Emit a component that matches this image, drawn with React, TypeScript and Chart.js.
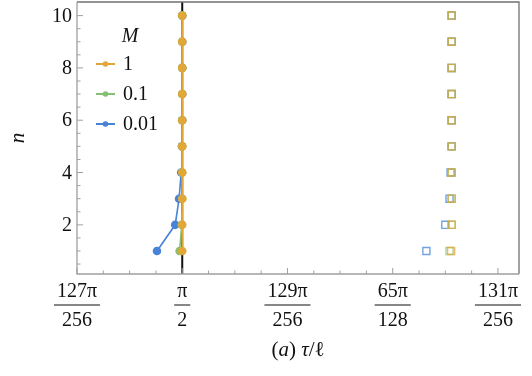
import React, { useEffect, useRef } from "react";
import { Chart, registerables } from "chart.js";

Chart.register(...registerables);

const nValues = [1, 2, 3, 4, 5, 6, 7, 8, 9, 10];
// x values in units of π/256
const m1X = [128, 128, 128, 128, 128, 128, 128, 128, 128, 128];
const m01X = [127.975, 127.995, 128, 128, 128, 128, 128, 128, 128, 128];
const m001X = [127.76, 127.933, 127.97, 127.99, 127.997, 128, 128, 128, 128, 128];
const sq1X = [130.555, 130.56, 130.56, 130.56, 130.56, 130.56, 130.56, 130.56, 130.56, 130.56];
const sq01X = [130.54, 130.56, 130.56, 130.56, 130.56, 130.56, 130.56, 130.56, 130.56, 130.56];
const sq001X = [130.32, 130.5, 130.54, 130.55, 130.56, 130.56, 130.56, 130.56, 130.56, 130.56];

const xTickValues = [127, 128, 129, 130, 131];
const xTickNum = ["127π", "π", "129π", "65π", "131π"];
const xTickDen = ["256", "2", "256", "128", "256"];
const yTickValues = [2, 4, 6, 8, 10];
const legendLabels = ["1", "0.1", "0.01"];
const legendTitle = "M";

const ORANGE = "#E2A736";
const GREEN = "#85BF72";
const BLUE = "#4783D9";
const FONT = "'Liberation Serif', serif";

function pts(xs: number[]) {
  return xs.map((x, i) => ({ x, y: nValues[i] }));
}

const decorPlugin = {
  id: "decor",
  beforeDatasetsDraw(chart: any) {
    const { ctx, chartArea: a, scales } = chart;
    const xs = scales.x;
    ctx.save();
    ctx.strokeStyle = "#111";
    ctx.lineWidth = 2;
    const px = xs.getPixelForValue(128);
    ctx.beginPath();
    ctx.moveTo(px, a.bottom);
    ctx.lineTo(px, a.top);
    ctx.stroke();
    ctx.restore();
  },
  afterDraw(chart: any) {
    const { ctx, chartArea: a, scales } = chart;
    const xs = scales.x;
    const ys = scales.y;
    ctx.save();
    // frame
    ctx.lineWidth = 1.3;
    ctx.strokeStyle = "#707070";
    ctx.beginPath();
    ctx.moveTo(a.left, a.top);
    ctx.lineTo(a.right, a.top);
    ctx.lineTo(a.right, a.bottom);
    ctx.stroke();
    ctx.strokeStyle = "#a0a0a0";
    ctx.beginPath();
    ctx.moveTo(a.left, a.top);
    ctx.lineTo(a.left, a.bottom);
    ctx.lineTo(a.right, a.bottom);
    ctx.stroke();
    // x ticks
    ctx.strokeStyle = "#a0a0a0";
    ctx.lineWidth = 1;
    for (let v = 127; v <= 131.2 + 1e-9; v += 0.25) {
      const p = xs.getPixelForValue(v);
      const major = Math.abs(v - Math.round(v)) < 1e-6;
      const len = major ? 6 : 3.5;
      ctx.beginPath();
      ctx.moveTo(p, a.bottom);
      ctx.lineTo(p, a.bottom - len);
      ctx.stroke();
    }
    for (let v = 0.5; v <= 10.52; v += 0.5) {
      const p = ys.getPixelForValue(v);
      const major = Math.abs(v / 2 - Math.round(v / 2)) < 1e-6;
      const len = major ? 6 : 3.5;
      ctx.beginPath();
      ctx.moveTo(a.left, p);
      ctx.lineTo(a.left + len, p);
      ctx.stroke();
    }
    // y tick labels
    ctx.fillStyle = "#111";
    ctx.font = `20px ${FONT}`;
    ctx.textAlign = "right";
    ctx.textBaseline = "middle";
    yTickValues.forEach((v) => {
      ctx.fillText(String(v), 72, ys.getPixelForValue(v) + 1);
    });
    // x tick labels as fractions
    ctx.textAlign = "center";
    ctx.textBaseline = "alphabetic";
    xTickValues.forEach((v, i) => {
      const p = xs.getPixelForValue(v);
      ctx.font = `20px ${FONT}`;
      const w = Math.max(ctx.measureText(xTickNum[i]).width, ctx.measureText(xTickDen[i]).width) + 6;
      ctx.fillText(xTickNum[i], p, 297);
      ctx.fillText(xTickDen[i], p, 326);
      ctx.fillRect(p - w / 2, 304.5, w, 1);
    });
    // x axis title: (a) τ/ℓ
    const parts: [string, boolean][] = [["(", false], ["a", true], [") ", false], ["τ", true], ["/", false], ["ℓ", false]];
    ctx.textAlign = "left";
    let total = 0;
    parts.forEach(([t, it]) => {
      ctx.font = `${it ? "italic " : ""}21px ${FONT}`;
      total += ctx.measureText(t).width;
    });
    let cx = (a.left + a.right) / 2 - total / 2;
    parts.forEach(([t, it]) => {
      ctx.font = `${it ? "italic " : ""}21px ${FONT}`;
      ctx.fillText(t, cx, 356);
      cx += ctx.measureText(t).width;
    });
    // y axis title
    ctx.save();
    ctx.translate(18, 138);
    ctx.rotate(-Math.PI / 2);
    ctx.font = `italic 21px ${FONT}`;
    ctx.textAlign = "center";
    ctx.textBaseline = "middle";
    ctx.fillText("n", 0, 0);
    ctx.restore();
    // legend
    ctx.font = `italic 20px ${FONT}`;
    ctx.textAlign = "center";
    ctx.textBaseline = "middle";
    ctx.fillText(legendTitle, 130, 37);
    const cols = [ORANGE, GREEN, BLUE];
    const ly = [64, 94, 124];
    legendLabels.forEach((lab, i) => {
      ctx.strokeStyle = cols[i];
      ctx.lineWidth = 2;
      ctx.beginPath();
      ctx.moveTo(96, ly[i]);
      ctx.lineTo(115, ly[i]);
      ctx.stroke();
      ctx.fillStyle = cols[i];
      ctx.beginPath();
      ctx.arc(105.5, ly[i], 2.8, 0, Math.PI * 2);
      ctx.fill();
      ctx.fillStyle = "#111";
      ctx.font = `20px ${FONT}`;
      ctx.textAlign = "left";
      ctx.fillText(lab, 123, ly[i] + 1);
    });
    ctx.restore();
  },
};

export default function App() {
  const ref = useRef<HTMLCanvasElement>(null);
  useEffect(() => {
    document.body.style.margin = "0";
    const lineDs = (label: string, xs: number[], color: string) => ({
      label,
      data: pts(xs),
      showLine: true,
      borderColor: color,
      backgroundColor: color,
      borderWidth: 1.6,
      pointRadius: 4.3,
      pointBorderWidth: 0,
      pointBackgroundColor: color,
    });
    const sqDs = (label: string, xs: number[], color: string) => ({
      label,
      data: pts(xs),
      showLine: false,
      pointStyle: "rect",
      pointRadius: 5,
      pointBorderWidth: 1.4,
      pointBorderColor: color,
      pointBackgroundColor: "rgba(255,255,255,0)",
      borderColor: color,
      backgroundColor: "rgba(255,255,255,0)",
    });
    const chart = new Chart(ref.current!, {
      type: "scatter",
      data: {
        datasets: [
          lineDs("1", m1X, ORANGE),
          lineDs("0.1", m01X, GREEN),
          lineDs("0.01", m001X, BLUE),
          sqDs("sq1", sq1X, "rgba(226,167,54,0.75)"),
          sqDs("sq0.1", sq01X, "rgba(133,191,114,0.7)"),
          sqDs("sq0.01", sq001X, "rgba(71,131,217,0.75)"),
        ] as any,
      },
      options: {
        responsive: false,
        animation: false,
        layout: { autoPadding: false, padding: { left: 77, right: 13, top: 2, bottom: 102 } },
        plugins: { legend: { display: false }, tooltip: { enabled: false } },
        scales: {
          x: { type: "linear", min: 127, max: 131.2, display: false },
          y: { type: "linear", min: 0.12, max: 10.52, display: false },
        },
      },
      plugins: [decorPlugin],
    });
    return () => chart.destroy();
  }, []);
  return (
    <div style={{ width: 532, height: 376 }}>
      <canvas ref={ref} width={532} height={376} style={{ width: 532, height: 376, display: "block" }} />
    </div>
  );
}
